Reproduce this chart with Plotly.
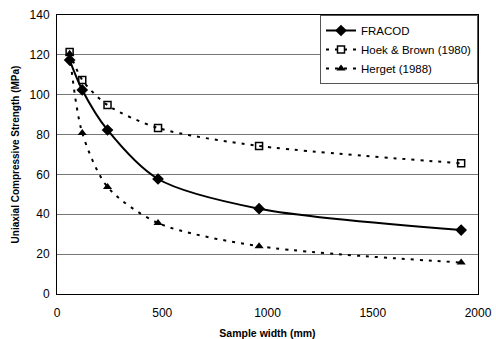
import plotly.graph_objects as go

widths = [60, 120, 240, 480, 960, 1920]
fracod = [117.4, 102.4, 82.3, 57.7, 42.8, 32.1]
hoek_brown = [121.4, 107.4, 94.8, 83.3, 74.3, 65.6]
herget = [120.5, 80.8, 53.7, 35.6, 24.0, 15.8]

fig = go.Figure()
fig.add_trace(go.Scatter(
    x=widths, y=fracod, name="FRACOD", mode="lines+markers",
    line=dict(color="black", width=2, shape="spline", smoothing=0.8),
    marker=dict(symbol="diamond", size=9, color="black")))
fig.add_trace(go.Scatter(
    x=widths, y=hoek_brown, name="Hoek & Brown (1980)", mode="lines+markers",
    line=dict(color="black", width=2, dash="3px,6px", shape="spline", smoothing=0.8),
    marker=dict(symbol="square-open", size=7, color="black", line=dict(width=1.5))))
fig.add_trace(go.Scatter(
    x=widths, y=herget, name="Herget (1988)", mode="lines+markers",
    line=dict(color="black", width=2, dash="3px,6px", shape="spline", smoothing=0.8),
    marker=dict(symbol="triangle-up", size=8, color="black")))

fig.update_layout(
    width=496, height=339,
    margin=dict(l=57, r=18, t=15, b=45),
    paper_bgcolor="white", plot_bgcolor="white",
    font=dict(family="Liberation Sans, Arial", size=12, color="black"),
    showlegend=True,
    legend=dict(x=1, y=1, xanchor="right", yanchor="top",
                bgcolor="white", bordercolor="#555", borderwidth=1,
                font=dict(size=11.5), tracegroupgap=1, itemwidth=30),
    xaxis=dict(range=[0, 2000], tickvals=[0, 500, 1000, 1500, 2000],
               showgrid=False, showline=True, linecolor="black", linewidth=1,
               mirror=True, ticks="", ticklen=0, tickfont=dict(size=12),
               ticklabelstandoff=8, automargin=False,
               title=dict(text="<b>Sample width (mm)</b>", font=dict(size=10.5), standoff=10)),
    yaxis=dict(range=[0, 140], tickvals=[0, 20, 40, 60, 80, 100, 120, 140],
               showgrid=True, gridcolor="#777", gridwidth=1,
               showline=True, linecolor="black", linewidth=1, mirror=True,
               ticks="", zeroline=False, tickfont=dict(size=12),
               ticklabelstandoff=4, automargin=False,
               title=dict(text="<b>Uniaxial Compressive Strength (MPa)</b>", font=dict(size=10), standoff=8)),
)

fig.write_html(
    "out.html",
    config={"displayModeBar": False},
    post_script="document.body.style.margin='0';document.body.style.overflow='hidden';",
)
